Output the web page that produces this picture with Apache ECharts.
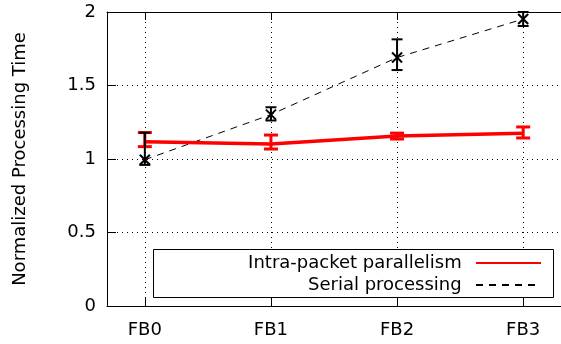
<!DOCTYPE html>
<html>
<head>
<meta charset="utf-8">
<script src="https://cdn.jsdelivr.net/npm/echarts@6/dist/echarts.min.js"></script>
<style>html,body{margin:0;padding:0;background:#fff}#c{width:561px;height:344px}</style>
</head>
<body>
<div id="c"></div>
<script>
var categories = ['FB0', 'FB1', 'FB2', 'FB3'];
var intraMean = [1.118, 1.102, 1.156, 1.176];
var intraLow = [1.084, 1.068, 1.136, 1.143];
var intraHigh = [1.180, 1.163, 1.176, 1.218];
var serialMean = [0.995, 1.302, 1.690, 1.952];
var serialLow = [0.960, 1.262, 1.605, 1.905];
var serialHigh = [1.179, 1.352, 1.814, 2.000];
var yTicks = [0, 0.5, 1, 1.5, 2];

var FONT = 'DejaVu Sans';
var catIdx = categories.map(function (c, i) { return i; });

function lineData(arr) { return arr.map(function (v, i) { return [i, v]; }); }
function errData(lo, hi, m) { return lo.map(function (v, i) { return [i, v, hi[i], m[i]]; }); }

function makeErr(color, lw, capW, withX) {
  return function (params, api) {
    var x = api.value(0);
    var pLo = api.coord([x, api.value(1)]);
    var pHi = api.coord([x, api.value(2)]);
    var pM = api.coord([x, api.value(3)]);
    var st = { stroke: color, lineWidth: lw };
    var ch = [
      { type: 'line', shape: { x1: pLo[0], y1: pLo[1], x2: pHi[0], y2: pHi[1] }, style: st },
      { type: 'line', shape: { x1: pLo[0] - capW / 2, y1: pLo[1], x2: pLo[0] + capW / 2, y2: pLo[1] }, style: st },
      { type: 'line', shape: { x1: pHi[0] - capW / 2, y1: pHi[1], x2: pHi[0] + capW / 2, y2: pHi[1] }, style: st }
    ];
    if (withX) {
      var s = 5;
      ch.push({ type: 'line', shape: { x1: pM[0] - s, y1: pM[1] - s, x2: pM[0] + s, y2: pM[1] + s }, style: st });
      ch.push({ type: 'line', shape: { x1: pM[0] - s, y1: pM[1] + s, x2: pM[0] + s, y2: pM[1] - s }, style: st });
    }
    return { type: 'group', children: ch };
  };
}

var chart = echarts.init(document.getElementById('c'), null, { renderer: 'canvas' });
var dotted = { color: '#000', width: 1, type: [1, 4] };
var legendCommon = {
  right: 19, padding: 0, align: 'right', itemWidth: 65, itemHeight: 14, z: 5,
  itemStyle: { opacity: 0 },
  formatter: function (n) { return n + ' \u2009'; },
  textStyle: { fontSize: 18, color: '#000', fontFamily: FONT }
};
chart.setOption({
  animation: false,
  textStyle: { fontFamily: FONT },
  grid: { left: 107, top: 12, width: 458, height: 294 },
  xAxis: [{
    type: 'value', min: -0.3, max: 3.3, position: 'bottom',
    axisLine: { show: true, onZero: false, lineStyle: { color: '#000', width: 1 } },
    axisTick: { show: true, inside: true, length: 8, customValues: catIdx, lineStyle: { color: '#000' } },
    axisLabel: { customValues: catIdx, formatter: function (v) { return categories[v]; }, fontSize: 18, color: '#000', fontFamily: FONT, margin: 15 },
    splitLine: { show: true, lineStyle: dotted }
  }, {
    type: 'value', min: -0.3, max: 3.3, position: 'top',
    axisLine: { show: true, onZero: false, lineStyle: { color: '#000', width: 1 } },
    axisTick: { show: true, inside: true, length: 8, customValues: catIdx, lineStyle: { color: '#000' } },
    axisLabel: { show: false },
    splitLine: { show: false }
  }],
  yAxis: {
    type: 'value', min: 0, max: 2, interval: 0.5, position: 'left',
    name: 'Normalized Processing Time', nameLocation: 'middle', nameGap: 78,
    nameTextStyle: { fontSize: 18, color: '#000', fontFamily: FONT },
    axisLine: { show: true, onZero: false, lineStyle: { color: '#000', width: 1 } },
    axisTick: { show: true, inside: true, length: 9, lineStyle: { color: '#000' } },
    axisLabel: { fontSize: 18, color: '#000', fontFamily: FONT, margin: 11 },
    splitLine: { show: true, lineStyle: dotted }
  },
  graphic: [{
    type: 'rect', z: 3, shape: { x: 153.5, y: 249.5, width: 400, height: 48 },
    style: { fill: '#fff', stroke: '#000', lineWidth: 1 }
  }],
  legend: [
    Object.assign({ data: ['Intra-packet parallelism'], top: 254 }, legendCommon),
    Object.assign({ data: ['Serial processing'], top: 276 }, legendCommon)
  ],
  series: [{
    name: 'Intra-packet parallelism', type: 'line', data: lineData(intraMean),
    symbol: 'none', lineStyle: { color: '#ff0000', width: 3.5 }, itemStyle: { color: '#ff0000' }, z: 3
  }, {
    name: 'Serial processing', type: 'line', data: lineData(serialMean),
    symbol: 'none', lineStyle: { color: '#000', width: 1, type: [7, 6] }, itemStyle: { color: '#000' }, z: 2
  }, {
    name: 'intraErr', type: 'custom', data: errData(intraLow, intraHigh, intraMean),
    encode: { x: 0, y: [1, 2] }, renderItem: makeErr('#ff0000', 3, 14, false), clip: false, z: 4
  }, {
    name: 'serialErr', type: 'custom', data: errData(serialLow, serialHigh, serialMean),
    encode: { x: 0, y: [1, 2] }, renderItem: makeErr('#000', 2, 11, true), clip: false, z: 4
  }]
});
</script>
</body>
</html>
